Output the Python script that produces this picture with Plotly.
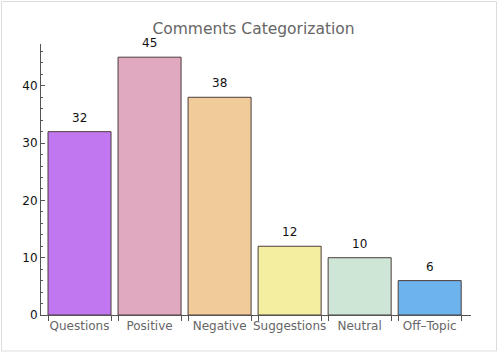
import plotly.graph_objects as go

categories = ["Questions", "Positive", "Negative", "Suggestions", "Neutral", "Off\u2013Topic"]
counts = [32, 45, 38, 12, 10, 6]
bar_colors = ["#C177EF", "#E0A9C0", "#F0CC9A", "#F3EEA0", "#CDE6D6", "#6DB3EC"]

positions = list(range(len(categories)))
bar_width = 0.9
edge_ticks = []
for p in positions:
    edge_ticks += [p - bar_width / 2, p + bar_width / 2]

W, H = 500, 354
L, R, T, B = 41, 29, 44, 39
xr = [-0.55, 5.59]

fig = go.Figure()
fig.add_trace(go.Bar(
    x=positions, y=counts, width=bar_width,
    marker=dict(color=bar_colors, line=dict(color="#4d3d3d", width=1)),
    showlegend=False, hoverinfo="skip",
))
# invisible trace on secondary axis for edge ticks
fig.add_trace(go.Scatter(x=[xr[0]], y=[0], xaxis="x2", mode="markers",
                         marker=dict(opacity=0), showlegend=False, hoverinfo="skip"))

for p, c in zip(positions, counts):
    fig.add_annotation(x=p, y=c, text=str(c), showarrow=False, xref="x", yref="y",
                       yanchor="bottom", yshift=5,
                       font=dict(family="DejaVu Sans", size=12, color="#111111"))

axis_col = "#555555"
fig.update_layout(
    width=W, height=H,
    margin=dict(l=L, r=R, t=T, b=B, autoexpand=False),
    paper_bgcolor="white", plot_bgcolor="white",
    font=dict(family="DejaVu Sans", size=12),
    title=dict(text="Comments Categorization", x=253.5 / W, xanchor="center",
               y=1 - 29 / H, yanchor="middle",
               font=dict(family="DejaVu Sans", size=15.5, color="#666666")),
    xaxis=dict(range=xr, tickmode="array", tickvals=positions, ticktext=categories,
               ticks="", showgrid=False, zeroline=False, showline=True,
               linecolor=axis_col, linewidth=1,
               tickfont=dict(family="DejaVu Sans", size=12, color="#666666"),
               ticklabelstandoff=0),
    xaxis2=dict(range=xr, overlaying="x", side="bottom", tickmode="array",
                tickvals=edge_ticks, showticklabels=False, ticks="outside",
                ticklen=5, tickcolor=axis_col, showgrid=False, zeroline=False,
                showline=False),
    yaxis=dict(range=[0, 47.3], tickmode="linear", tick0=0, dtick=10,
               ticks="inside", ticklen=4, tickcolor=axis_col,
               minor=dict(dtick=2, ticks="inside", ticklen=2, tickcolor=axis_col, showgrid=False),
               showgrid=False, zeroline=False, showline=True, linecolor=axis_col, linewidth=1,
               tickfont=dict(family="DejaVu Sans", size=12, color="#111111")),
    bargap=0.1,
)

# light outer frame
def px2x(px):
    return (px - L) / (W - L - R)

def py2y(py):
    return (H - B - py) / (H - T - B)

fig.add_shape(type="rect", xref="paper", yref="paper",
              x0=px2x(1.5), x1=px2x(496.5), y0=py2y(351), y1=py2y(1.5),
              line=dict(color="#DDDDDD", width=1), fillcolor="rgba(0,0,0,0)", layer="below")

fig.write_html("out.html")
